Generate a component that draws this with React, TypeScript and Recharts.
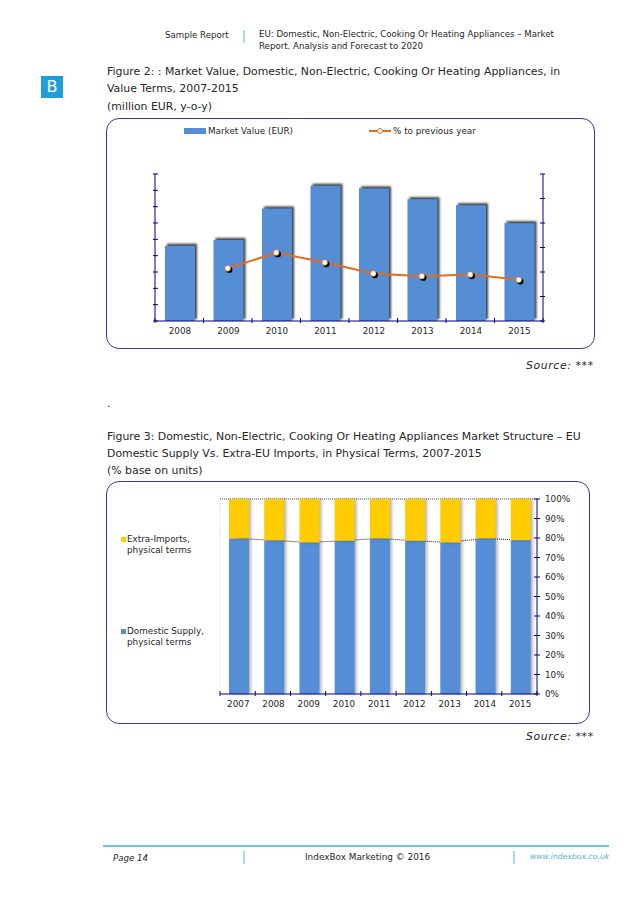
import React from "react";
import { ComposedChart, Bar, Line, XAxis, YAxis, ReferenceLine, Legend } from "recharts";

const years1 = ["2008", "2009", "2010", "2011", "2012", "2013", "2014", "2015"];
const marketValue = [4.61, 4.96, 6.89, 8.28, 8.12, 7.46, 7.09, 5.99];
const yoy = [null, 2.15, 2.79, 2.39, 1.94, 1.83, 1.9, 1.68];
const leftTicks = [0, 1, 2, 3, 4, 5, 6, 7, 8, 9];
const rightTicks = [0, 1, 2, 3, 4, 5, 6];

const years2 = ["2007", "2008", "2009", "2010", "2011", "2012", "2013", "2014", "2015"];
const domestic = [79.8, 78.8, 77.7, 78.6, 79.8, 78.6, 77.7, 79.8, 78.9];
const imports = [20.2, 21.2, 22.3, 21.4, 20.2, 21.4, 22.3, 20.2, 21.1];
const pctTicks = [0, 10, 20, 30, 40, 50, 60, 70, 80, 90, 100];

const data1 = years1.map((year, i) => ({ year, value: marketValue[i], yoy: yoy[i] }));
const data2 = years2.map((year, i) => ({ year, domestic: domestic[i], imports: imports[i] }));

const FONT = '"DejaVu Sans", Verdana, sans-serif';
const NAVY = "#000080";
const BLUE = "#558ED5";
const ORANGE = "#E36C21";
const YELLOW = "#FFCC00";
const TEXT = "#262626";

const BAND1 = 388 / 8;
const BAND2 = 317 / 9;

const Txt = ({ x, y, size = 10.9, style, children }: any) => (
  <div style={{ position: "absolute", left: x, top: y, fontSize: size, lineHeight: "14px", whiteSpace: "nowrap", color: TEXT, fontFamily: FONT, ...style }}>
    {children}
  </div>
);

const Panel = ({ x, y, w, h, children }: any) => (
  <div style={{ position: "absolute", left: x, top: y, width: w, height: h }}>
    <div style={{ position: "absolute", inset: 0, border: "1.3px solid #3A3A9E", borderRadius: 13, boxSizing: "border-box" }} />
    {children}
  </div>
);

const leftTick = ({ x, y }: any) => <line x1={x - 2} x2={x + 3} y1={y} y2={y} stroke={NAVY} strokeWidth={1} />;
const rightTick = ({ x, y }: any) => <line x1={x - 3} x2={x + 2} y1={y} y2={y} stroke={NAVY} strokeWidth={1} />;

const pctTick = ({ x, y, payload }: any) => (
  <g>
    <line x1={x - 3} x2={x + 3} y1={y} y2={y} stroke={NAVY} strokeWidth={1} />
    <text x={x + 8} y={y + 3} fontSize={8.8} fill={TEXT} fontFamily={FONT}>{payload.value}%</text>
  </g>
);

const makeXTick = (band: number, last: string) => ({ x, y, payload }: any) => (
  <g>
    <line x1={x - band / 2} x2={x - band / 2} y1={y - 3} y2={y + 2} stroke={NAVY} strokeWidth={1} />
    {payload.value === last && <line x1={x + band / 2} x2={x + band / 2} y1={y - 3} y2={y + 2} stroke={NAVY} strokeWidth={1} />}
    <text x={x + 0.7} y={y + 13} textAnchor="middle" fontSize={8.8} fill={TEXT} fontFamily={FONT}>{payload.value}</text>
  </g>
);

const shadowBar1 = ({ x, y, width, height, fill }: any) => (
  <rect x={x + 1} y={y} width={width} height={height} fill={fill} style={{ filter: "drop-shadow(2px -1.5px 1px rgba(0,0,0,0.75))" }} />
);
const shadowBar2 = ({ x, y, width, height, fill }: any) => (
  <rect x={x + 1} y={y} width={width} height={height} fill={fill} style={{ filter: "drop-shadow(2px 0 1.5px rgba(0,0,0,0.3))" }} />
);

const markerDot = ({ cx, cy, index }: any) =>
  cy == null ? <g key={index} /> : (
    <g key={index}>
      <circle cx={cx + 1.5} cy={cy + 1.5} r={3.2} fill="#000" />
      <circle cx={cx} cy={cy} r={2.8} fill="#fff" stroke={ORANGE} strokeWidth={0.7} />
    </g>
  );

const Legend1 = () => (
  <div style={{ position: "relative", width: 489, height: 14, fontFamily: FONT, fontSize: 8.8, color: TEXT }}>
    <span style={{ position: "absolute", left: 78, top: 3, width: 22, height: 6, background: BLUE }} />
    <span style={{ position: "absolute", left: 102, top: 0, lineHeight: "12px", whiteSpace: "nowrap" }}>Market Value (EUR)</span>
    <span style={{ position: "absolute", left: 263, top: 5, width: 22, height: 2, background: ORANGE }} />
    <span style={{ position: "absolute", left: 271, top: 3, width: 4, height: 4, borderRadius: 4, background: "#fff", border: `1px solid ${ORANGE}`, boxSizing: "content-box" }} />
    <span style={{ position: "absolute", left: 287, top: 0, lineHeight: "12px", whiteSpace: "nowrap" }}>% to previous year</span>
  </div>
);

const Legend2 = () => (
  <div style={{ position: "relative", width: 110, height: 170, fontFamily: FONT, fontSize: 8.8, color: TEXT, lineHeight: "11px" }}>
    <span style={{ position: "absolute", left: 0, top: 3, width: 5, height: 5, background: YELLOW }} />
    <span style={{ position: "absolute", left: 6, top: 0, whiteSpace: "nowrap" }}>Extra-Imports,<br />physical terms</span>
    <span style={{ position: "absolute", left: 0, top: 95, width: 5, height: 5, background: BLUE }} />
    <span style={{ position: "absolute", left: 6, top: 92, whiteSpace: "nowrap" }}>Domestic Supply,<br />physical terms</span>
  </div>
);

export default function App() {
  return (
    <div style={{ position: "absolute", left: 0, top: 0, width: 638, height: 903, background: "#fff", overflow: "hidden" }}>
      <Txt x={165} y={28} size={8.65}>Sample Report</Txt>
      <div style={{ position: "absolute", left: 243, top: 30, width: 1.5, height: 13, background: "#A9DCEB" }} />
      <Txt x={259} y={28} size={8.65} style={{ lineHeight: "12px" }}>
        EU: Domestic, Non-Electric, Cooking Or Heating Appliances – Market<br />Report. Analysis and Forecast to 2020
      </Txt>
      <div style={{ position: "absolute", left: 41, top: 76, width: 22, height: 22, background: "#1E9FDB", color: "#fff", fontFamily: FONT, fontSize: 16, textAlign: "center", lineHeight: "22px" }}>B</div>

      <Txt x={107} y={65}>Figure 2: : Market Value, Domestic, Non-Electric, Cooking Or Heating Appliances, in</Txt>
      <Txt x={107} y={82}>Value Terms, 2007-2015</Txt>
      <Txt x={107} y={100}>(million EUR, y-o-y)</Txt>

      <Panel x={106} y={118} w={489} h={231}>
        <div style={{ position: "absolute", left: 0, top: 0 }}>
          <ComposedChart width={489} height={231} data={data1} margin={{ left: 39, right: 42, top: 56, bottom: 8 }}>
            <XAxis dataKey="year" height={20} axisLine={{ stroke: NAVY }} tickLine={false} tickSize={0} tickMargin={0} interval={0} tick={makeXTick(BAND1, "2015")} />
            <YAxis yAxisId="l" orientation="left" width={10} domain={[0, 9]} ticks={leftTicks} interval={0} axisLine={{ stroke: NAVY }} tickLine={false} tickSize={0} tickMargin={0} tick={leftTick} />
            <YAxis yAxisId="r" orientation="right" width={10} domain={[0, 6]} ticks={rightTicks} interval={0} axisLine={{ stroke: NAVY }} tickLine={false} tickSize={0} tickMargin={0} tick={rightTick} />
            <Legend layout="horizontal" verticalAlign="middle" align="center" wrapperStyle={{ left: 0, top: 7, width: 489 }} content={() => <Legend1 />} />
            <Bar yAxisId="l" dataKey="value" name="Market Value (EUR)" fill={BLUE} barSize={30} shape={shadowBar1} isAnimationActive={false} />
            <Line yAxisId="r" dataKey="yoy" name="% to previous year" stroke={ORANGE} strokeWidth={2} dot={markerDot} activeDot={false} isAnimationActive={false} />
          </ComposedChart>
        </div>
      </Panel>

      <Txt x={526} y={359} style={{ fontStyle: "italic", letterSpacing: 0.6 }}>Source: ***</Txt>
      <Txt x={107} y={397}>.</Txt>

      <Txt x={107} y={430}>Figure 3: Domestic, Non-Electric, Cooking Or Heating Appliances Market Structure – EU</Txt>
      <Txt x={107} y={447}>Domestic Supply Vs. Extra-EU Imports, in Physical Terms, 2007-2015</Txt>
      <Txt x={107} y={464}>(% base on units)</Txt>

      <Panel x={106} y={481} w={484} h={243}>
        <div style={{ position: "absolute", left: 0, top: 0 }}>
          <ComposedChart width={484} height={243} data={data2} margin={{ left: 104, right: 13, top: 18, bottom: 10 }}>
            <XAxis dataKey="year" height={20} axisLine={{ stroke: NAVY }} tickLine={false} tickSize={0} tickMargin={0} interval={0} tick={makeXTick(BAND2, "2015")} />
            <YAxis yAxisId="l" orientation="left" width={10} domain={[0, 100]} ticks={[0, 100]} axisLine={{ stroke: "#D4D4D4", strokeDasharray: "1 1" }} tickLine={false} tick={false} />
            <YAxis yAxisId="r" orientation="right" width={40} domain={[0, 100]} ticks={pctTicks} interval={0} axisLine={{ stroke: NAVY }} tickLine={false} tickSize={0} tickMargin={0} tick={pctTick} />
            <Legend layout="horizontal" verticalAlign="middle" align="center" wrapperStyle={{ left: 15, top: 53, width: 110 }} content={() => <Legend2 />} />
            <ReferenceLine yAxisId="r" y={100} stroke="#444" strokeDasharray="1 1" zIndex={100} />
            <Line yAxisId="r" dataKey="domestic" legendType="none" stroke="#222" strokeWidth={1} strokeDasharray="1 1" dot={false} activeDot={false} isAnimationActive={false} zIndex={100} />
            <Bar yAxisId="r" dataKey="domestic" name="Domestic Supply, physical terms" stackId="a" fill={BLUE} barSize={20} shape={shadowBar2} isAnimationActive={false} />
            <Bar yAxisId="r" dataKey="imports" name="Extra-Imports, physical terms" stackId="a" fill={YELLOW} barSize={20} shape={shadowBar2} isAnimationActive={false} />
          </ComposedChart>
        </div>
      </Panel>

      <Txt x={526} y={730} style={{ fontStyle: "italic", letterSpacing: 0.6 }}>Source: ***</Txt>

      <div style={{ position: "absolute", left: 103, top: 845, width: 506, height: 1.5, background: "#6CC5E0" }} />
      <Txt x={113} y={851} size={8.6} style={{ fontStyle: "italic" }}>Page 14</Txt>
      <div style={{ position: "absolute", left: 243, top: 851, width: 1.5, height: 13, background: "#A9DCEB" }} />
      <Txt x={305} y={850} size={8.9}>IndexBox Marketing © 2016</Txt>
      <div style={{ position: "absolute", left: 513, top: 851, width: 1.5, height: 13, background: "#A9DCEB" }} />
      <Txt x={530} y={850} size={7.7} style={{ fontStyle: "italic", color: "#4FB3D6" }}>www.indexbox.co.uk</Txt>
    </div>
  );
}
